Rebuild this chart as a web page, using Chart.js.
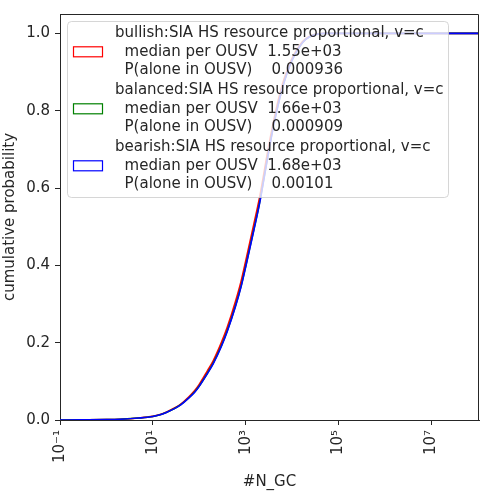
<!DOCTYPE html>
<html>
<head>
<meta charset="utf-8">
<script src="https://cdn.jsdelivr.net/npm/chart.js@4.4.1/dist/chart.umd.min.js"></script>
<style>
  body { margin: 0; background: #fff; }
  #wrap { width: 496px; height: 499px; }
</style>
</head>
<body>
<div id="wrap"><canvas id="cdfChart"></canvas></div>
<script>
// CDF of #N_GC for the three scenarios, log x axis

const xs = [0.1, 0.3, 1, 2, 5, 10, 15, 20, 30, 40, 60, 80, 100, 150, 200, 300, 400, 600, 800,
            1000, 1500, 2000, 3000, 4000, 6000, 8000, 10000, 15000, 20000, 30000, 50000, 1.07e8];
const bullish  = [0, 0.0004, 0.0011, 0.0021, 0.0052, 0.0094, 0.0146, 0.021, 0.0315, 0.041, 0.06, 0.076,
                  0.092, 0.127, 0.153, 0.2, 0.239, 0.305, 0.359, 0.41, 0.506, 0.576, 0.695, 0.773,
                  0.862, 0.907, 0.935, 0.971, 0.987, 0.997, 1, 1];
const balanced = [0, 0.0004, 0.001, 0.002, 0.005, 0.0091, 0.0141, 0.0203, 0.0304, 0.0395, 0.0576, 0.0728,
                  0.088, 0.121, 0.147, 0.192, 0.23, 0.294, 0.347, 0.397, 0.492, 0.562, 0.682, 0.762,
                  0.853, 0.901, 0.931, 0.968, 0.985, 0.996, 1, 1];
const bearish  = [0, 0.0004, 0.001, 0.002, 0.005, 0.009, 0.014, 0.02, 0.03, 0.039, 0.057, 0.072,
                  0.087, 0.12, 0.145, 0.19, 0.228, 0.292, 0.345, 0.395, 0.49, 0.56, 0.68, 0.76,
                  0.852, 0.9, 0.93, 0.968, 0.985, 0.996, 1, 1];

const seriesNames = ['bullish', 'balanced', 'bearish'];
const medians = ['1.55e+03', '1.66e+03', '1.68e+03'];
const pAlone = ['0.000936', '0.000909', '0.00101'];
const colors = ['#ff0000', '#008000', '#0000ff'];

const xTicks = [0.1, 10, 1000, 100000, 10000000];
const xTickLabels = ['10\u207B\u00B9', '10\u00B9', '10\u00B3', '10\u2075', '10\u2077'];
const yTicks = [0, 0.2, 0.4, 0.6, 0.8, 1.0];

const txt = '#262626';
Chart.defaults.font.family = "'DejaVu Sans', sans-serif";
Chart.defaults.font.size = 15;
Chart.defaults.color = txt;

function toPoints(ys) {
    return xs.map((x, i) => ({ x: x, y: ys[i] }));
}

const allSeries = [bullish, balanced, bearish];
const datasets = allSeries.map((ys, i) => ({
    label: seriesNames[i] + ':SIA HS resource proportional, v=c',
    data: toPoints(ys),
    borderColor: colors[i],
    borderWidth: 1.6,
    pointRadius: 0,
    fill: false,
    cubicInterpolationMode: 'monotone',
    order: 3 - i
}));

// top/right spines + matplotlib style legend box
const framePlugin = {
    id: 'frame',
    afterDatasetsDraw(chart) {
        const ctx = chart.ctx;
        const a = chart.chartArea;
        ctx.save();
        ctx.strokeStyle = txt;
        ctx.lineWidth = 1;
        ctx.beginPath();
        ctx.moveTo(a.left, a.top + 0.5);
        ctx.lineTo(a.right - 0.5, a.top + 0.5);
        ctx.lineTo(a.right - 0.5, a.bottom);
        ctx.stroke();

        // legend
        const lx = 67, ly = 21, lw = 381, lh = 176;
        ctx.beginPath();
        ctx.roundRect(lx + 0.5, ly + 0.5, lw, lh, 4);
        ctx.fillStyle = 'rgba(255,255,255,0.8)';
        ctx.fill();
        ctx.strokeStyle = 'rgba(204,204,204,0.8)';
        ctx.stroke();

        ctx.font = "15px 'DejaVu Sans'";
        ctx.textBaseline = 'middle';
        chart.data.datasets.forEach((ds, i) => {
            const y0 = 33.5 + i * 57;
            const lines = [
                ds.label,
                '  median per OUSV  ' + medians[i],
                '  P(alone in OUSV)    ' + pAlone[i]
            ];
            ctx.strokeStyle = ds.borderColor;
            ctx.lineWidth = 1.2;
            ctx.strokeRect(73.5, y0 + 18.3 - 5, 29, 10);
            ctx.fillStyle = txt;
            lines.forEach((s, j) => ctx.fillText(s, 115, y0 + j * 18.3));
        });
        ctx.restore();
    }
};

new Chart(document.getElementById('cdfChart'), {
    type: 'line',
    data: { datasets: datasets },
    options: {
        maintainAspectRatio: false,
        animation: false,
        layout: { padding: { top: 14, right: 17, left: 0, bottom: 0 } },
        plugins: {
            legend: { display: false },
            tooltip: { enabled: false }
        },
        scales: {
            x: {
                type: 'logarithmic',
                min: 0.1,
                max: 1.07e8,
                afterBuildTicks: (s) => { s.ticks = xTicks.map(v => ({ value: v })); },
                afterFit: (s) => { s.height = 79; },
                ticks: {
                    autoSkip: false,
                    minRotation: 90,
                    maxRotation: 90,
                    padding: 5,
                    callback: (v, i) => xTickLabels[i]
                },
                grid: { drawOnChartArea: false, drawTicks: true, tickLength: 5, color: txt },
                border: { display: true, color: txt, width: 1 },
                title: { display: true, text: '#N_GC', padding: { top: 4, bottom: 8 } }
            },
            y: {
                type: 'linear',
                min: 0,
                max: 1.05,
                afterBuildTicks: (s) => { s.ticks = yTicks.map(v => ({ value: v })); },
                afterFit: (s) => { s.width = 60; },
                ticks: {
                    padding: 5,
                    callback: (v) => v.toFixed(1)
                },
                grid: { drawOnChartArea: false, drawTicks: true, tickLength: 5, color: txt },
                border: { display: true, color: txt, width: 1 },
                title: { display: true, text: 'cumulative probability', padding: { top: 1, bottom: 0 } }
            }
        }
    },
    plugins: [framePlugin]
});
</script>
</body>
</html>
